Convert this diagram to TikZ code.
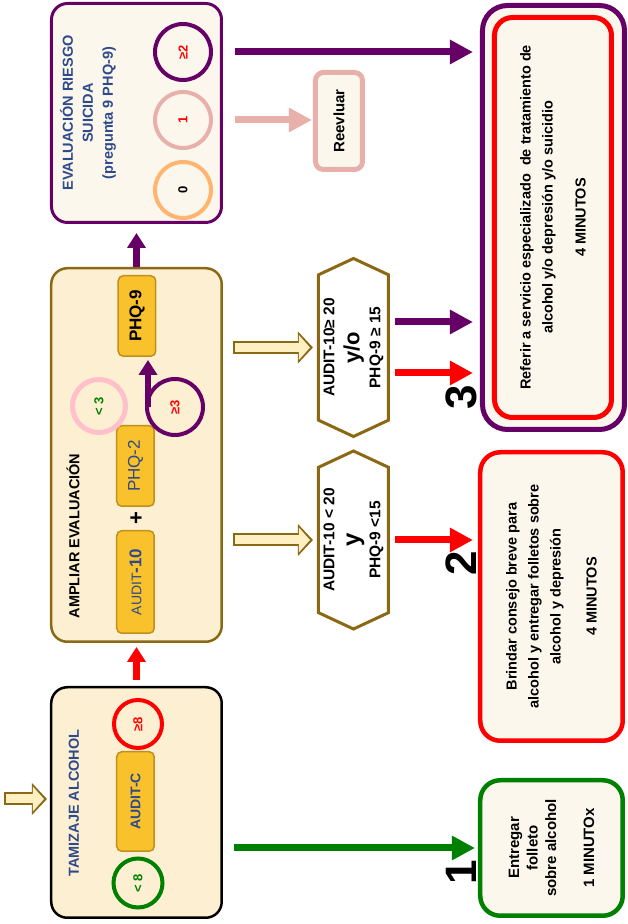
\documentclass[tikz,border=0pt]{standalone}
\usepackage{fontspec}
\setmainfont{Liberation Sans}
\usetikzlibrary{arrows.meta,shapes.symbols,calc}
\definecolor{crema}{HTML}{FDF0D2}
\definecolor{cremaclaro}{HTML}{FBF7EC}
\definecolor{huecocrema}{HTML}{FFF0C4}
\definecolor{oro}{HTML}{F9C12B}
\definecolor{oroborde}{HTML}{C0901C}
\definecolor{ocre}{HTML}{8B6914}
\definecolor{morado}{HTML}{660066}
\definecolor{rojo}{HTML}{FF0000}
\definecolor{verde}{HTML}{008000}
\definecolor{rosa}{HTML}{FFC0CB}
\definecolor{rosaviejo}{HTML}{E8B0AA}
\definecolor{naranja}{HTML}{FFB570}
\definecolor{azul}{HTML}{2E4A8B}

\begin{document}
\begin{tikzpicture}[rotate=90, transform shape, x=1pt, y=1pt]
\useasboundingbox (0,0) rectangle (924,628);
\tikzset{etapa/.style={draw, rounded corners=16pt, fill=crema, line width=2.5pt}}
\tikzset{titulo/.style={font=\bfseries\fontsize{14.5}{18}\selectfont}}
\tikzset{prueba/.style={draw=oroborde, fill=oro, rounded corners=5pt, line width=1.5pt, minimum height=37.5pt, inner sep=0pt, font=\bfseries\fontsize{14}{16}\selectfont}}
\tikzset{aro/.style={circle, draw, line width=4pt, minimum size=#1, inner sep=0pt, font=\bfseries\fontsize{13}{15}\selectfont}, aro/.default=56pt}
\tikzset{criterio/.style={signal, signal to=east and west, signal pointer angle=130, draw=ocre, fill=white, line width=3pt, minimum width=178pt, minimum height=70pt, align=center, inner sep=0pt, font=\bfseries\fontsize{15.5}{20}\selectfont}}
\tikzset{salida/.style={draw, fill=cremaclaro, rounded corners=20pt, line width=4.5pt, align=center, font=\bfseries\fontsize{14.5}{22}\selectfont}}
\tikzset{flecha/.style={line width=7pt, -{Triangle[width=23pt,length=23pt]}}}
\tikzset{flechacorta/.style={line width=6.5pt, -{Triangle[width=18pt,length=15pt]}}}
\tikzset{huecaborde/.style={draw=ocre, line width=13pt, -{Triangle[width=31pt,length=15pt]}}}
\tikzset{huecarelleno/.style={draw=huecocrema, line width=9pt, shorten <=2pt, shorten >=3pt, -{Triangle[width=24pt,length=11pt]}}}
\tikzset{numero/.style={font=\bfseries\fontsize{44}{44}\selectfont, inner sep=0pt}}
% tamizaje
\node[etapa, draw=black, minimum width=230.5pt, minimum height=170.5pt] (tam) at (121.5,491.5) {};
\node[titulo, text=azul] (tamtit) at (121,554) {TAMIZAJE ALCOHOL};
\node[prueba, minimum width=99.5pt, text=azul] (auditc) at (122.5,492.5) {AUDIT-C};
\node[aro=48pt, draw=rojo, text=rojo] (may8) at (200,490) {≥8};
\node[aro=49pt, draw=verde, text=verde] (men8) at (41,490) {< 8};
\coordinate (entrada) at (125,624);
\draw[huecaborde, shorten >=3pt] (entrada) -- (entrada |- tam.north);
\draw[huecarelleno, shorten >=6pt] (entrada) -- (entrada |- tam.north);
% ampliar evaluacion
\node[etapa, draw=ocre, minimum width=373.5pt, minimum height=170.5pt] (amp) at (469,491.5) {};
\node[titulo] (amptit) at (388,555) {AMPLIAR EVALUACIÓN};
\node[prueba, minimum width=102.5pt, text=azul, font=\fontsize{14}{16}\selectfont] (audit10) at (342,492.5) {AUDIT{\bfseries\fontsize{17}{17}\selectfont -10}};
\node[font=\bfseries\fontsize{22}{22}\selectfont] (mas) at (406,491) {+};
\node[prueba, minimum width=80.5pt, text=azul, font=\fontsize{17}{19}\selectfont] (phq2) at (458,492.5) {PHQ-2};
\node[aro=53pt, draw=rosa, line width=5pt, text=verde] (men3) at (518,529) {< 3};
\node[aro=56pt, draw=morado, text=rojo] (may3) at (517,453) {≥3};
\node[prueba, minimum width=80.5pt, font=\bfseries\fontsize{17}{19}\selectfont] (phq9) at (608,491) {PHQ-9};
\draw[flechacorta, morado] ($(may3.north)+(0,-3)$) -- ($(phq9.west |- may3.north)+(-3,-3)$);
% riesgo suicida
\node[etapa, draw=morado, fill=cremaclaro, line width=3pt, minimum width=219pt, minimum height=170pt] (eva) at (811,491.5) {};
\node[text=azul, align=center, font=\bfseries\fontsize{14.5}{20}\selectfont] (evatit) at (811,540) {EVALUACIÓN RIESGO\\SUICIDA\\(pregunta 9 PHQ-9)};
\node[aro, draw=naranja, text=black] (p0) at (734,445) {0};
\node[aro, draw=rosaviejo, text=rojo] (p1) at (804,445) {1};
\node[aro, draw=morado, text=rojo] (p2) at (872,445) {≥2};
\node[draw=rosaviejo, fill=cremaclaro, line width=5pt, rounded corners=8pt, minimum width=97pt, minimum height=47pt, font=\bfseries\fontsize{15}{17}\selectfont] (reev) at (803,289) {Reevluar};
% criterios
\node[criterio] (hexb) at (384,274.5) {AUDIT-10 < 20\\[5pt]{\fontsize{24}{24}\selectfont y}\\[1pt]PHQ-9 <15};
\node[criterio] (hexa) at (576.5,274.5) {AUDIT-10≥ 20\\[5pt]{\fontsize{22}{22}\selectfont y/o}\\[1pt]PHQ-9 ≥ 15};
\foreach \h in {hexb,hexa} {
  \draw[huecaborde] ($(\h |- amp.south)+(0,-10)$) -- ($(\h.north)+(0,4)$);
  \draw[huecarelleno] ($(\h |- amp.south)+(0,-10)$) -- ($(\h.north)+(0,4)$);
}
% salidas
\node[salida, draw=verde, minimum width=135.5pt, minimum height=142.5pt, font=\bfseries\fontsize{15}{18.5}\selectfont] (out1) at (76,76.5) {Entregar\\folleto\\sobre alcohol\\[19.5pt]1 MINUTOx};
\node[salida, draw=rojo, minimum width=288.5pt, minimum height=142.5pt] (out2) at (327.5,76.5) {Brindar consejo breve para\\alcohol y entregar folletos sobre\\alcohol y depresión\\[14pt]4 MINUTOS};
\node[salida, draw=morado, line width=5pt, rounded corners=25pt, minimum width=424pt, minimum height=142pt] (out3p) at (706.5,74.5) {};
\node[salida, draw=rojo, line width=5pt, rounded corners=18pt, minimum width=400pt, minimum height=117pt] (out3) at (706.5,75) {Referir a servicio especializado\ \ de tratamiento de\\alcohol y/o depresión y/o suicidio\\[11pt]4 MINUTOS};
% flechas
\draw[flechacorta, rojo, shorten <=6pt, shorten >=4pt] (tam.east) -- (amp.west);
\draw[flechacorta, morado, shorten >=9pt] (amp.east) -- (eva.west);
\draw[flecha, verde, shorten <=11pt, shorten >=3pt] (out1.north |- tam.south) -- (out1.north);
\draw[flecha, morado, shorten <=12pt, shorten >=7pt] (p2 |- eva.south) -- (p2 |- out3p.north);
\draw[flecha, rosaviejo, shorten <=12pt, shorten >=1pt] (p1 |- eva.south) -- (p1 |- reev.north);
\draw[flecha, morado, shorten <=5pt, shorten >=7pt] ($(hexa.south)+(25.5,0)$) -- ($(hexa.south |- out3p.north)+(25.5,0)$);
\draw[flecha, rojo, shorten <=5pt, shorten >=7pt] ($(hexa.south)+(-25.5,0)$) -- ($(hexa.south |- out3p.north)+(-25.5,0)$);
\draw[flecha, rojo, shorten <=5pt, shorten >=5pt] (hexb.south) -- (hexb.south |- out2.north);
\node[numero] (n1) at (52,167) {1};
\node[numero] (n2) at (361,167) {2};
\node[numero] (n3) at (527,167) {3};
\end{tikzpicture}
\end{document}
